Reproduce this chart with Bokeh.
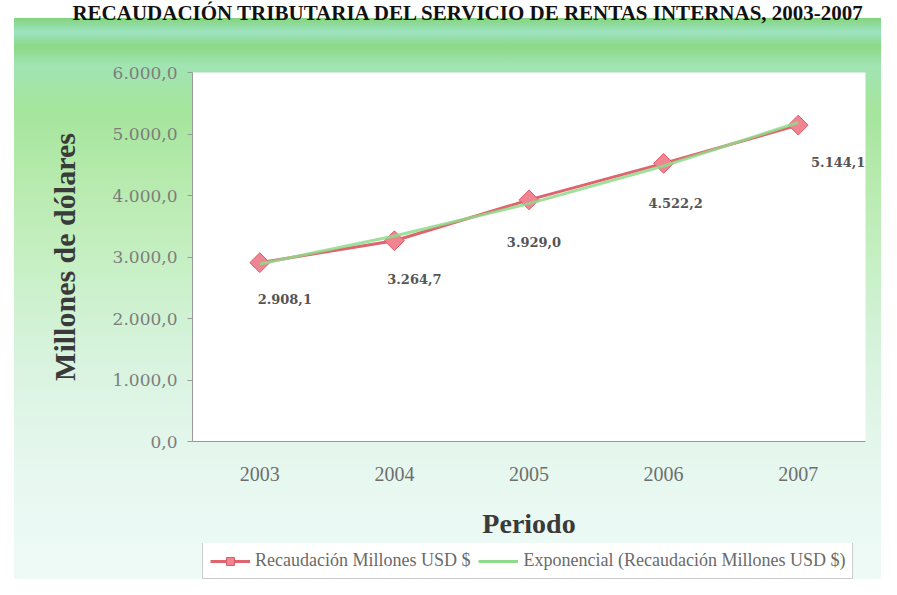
from bokeh.plotting import figure
from bokeh.layouts import column
from bokeh.models import (ColumnDataSource, Range1d, FactorRange, FixedTicker,
                          Legend, LegendItem)
from bokeh.core.properties import value
from bokeh.embed import file_html
from bokeh.resources import INLINE

# ---------------- data ----------------
years = ["2003", "2004", "2005", "2006", "2007"]
recaudacion = [2908.1, 3264.7, 3929.0, 4522.2, 5144.1]
exponencial = [2887.0, 3342.0, 3868.0, 4480.0, 5187.0]
value_labels = ["2.908,1", "3.264,7", "3.929,0", "4.522,2", "5.144,1"]
y_ticks = [0, 1000, 2000, 3000, 4000, 5000, 6000]
y_tick_labels = ["0,0", "1.000,0", "2.000,0", "3.000,0", "4.000,0", "5.000,0", "6.000,0"]

title_text = "RECAUDACIÓN TRIBUTARIA DEL SERVICIO DE RENTAS INTERNAS, 2003-2007"
y_title = "Millones de dólares"
x_title = "Periodo"
legend_main = "Recaudación Millones USD $"
legend_trend = "Exponencial (Recaudación Millones USD $)"

# label offsets (pixels, styling only)
label_dx = [25, 20, 5, 12, 40]
label_dy = [36, 38, 42, 40, 37]

src = ColumnDataSource(dict(year=years, val=recaudacion, trend=exponencial,
                            lab=value_labels, dx=label_dx, dy=label_dy))

SERIF = "Liberation Serif"
W = 881
TITLE_H = 24
LEGEND_H = 36

RED = "#e0646e"
MARK_FILL = "#f08592"
MARK_LINE = "#e05a6a"
GREEN = "#8edb8a"


def strip(height):
    f = figure(width=W, height=height, x_range=FactorRange(*years),
               y_range=Range1d(-20, -10), x_axis_type=None, y_axis_type=None,
               min_border=0, output_backend="svg", toolbar_location=None)
    f.border_fill_color = None
    f.background_fill_color = None
    f.outline_line_color = None
    return f


# ---------------- title strip ----------------
tfig = strip(TITLE_H)
tfig.title.text = title_text
tfig.title.align = "right"
tfig.title.standoff = 0
tfig.title.text_font = SERIF
tfig.title.text_font_style = "bold"
tfig.title.text_font_size = "21px"
tfig.title.text_color = "#111111"
tfig.line(x="year", y="val", source=src, line_alpha=0)

# ---------------- main chart ----------------
p = figure(width=W, height=579 - TITLE_H - LEGEND_H,
           x_range=FactorRange(*years), y_range=Range1d(0, 6000),
           min_border_left=192, min_border_right=16,
           min_border_top=72 - TITLE_H, min_border_bottom=102,
           output_backend="svg", toolbar_location=None)
p.border_fill_color = None
p.background_fill_color = "white"
p.outline_line_color = None
p.grid.visible = False

p.line(x="year", y="val", source=src, line_color=RED, line_width=3)
p.scatter(x="year", y="val", source=src, marker="square", angle=0.785398,
          size=14, fill_color=MARK_FILL, line_color=MARK_LINE, line_width=1)
p.line(x="year", y="trend", source=src, line_color=GREEN, line_width=3, line_alpha=0.85)

p.text(x="year", y="val", text="lab", x_offset="dx", y_offset="dy", source=src,
       text_align="center", text_baseline="middle",
       text_font=value("DejaVu Serif"), text_font_style="bold",
       text_font_size="13px", text_color="#555555")

p.yaxis.ticker = FixedTicker(ticks=y_ticks)
p.yaxis.major_label_overrides = {t: s for t, s in zip(y_ticks, y_tick_labels)}
p.yaxis.minor_tick_line_color = None
p.yaxis.major_tick_in = 0
p.yaxis.major_tick_out = 5
p.yaxis.major_tick_line_color = "#9a9a9a"
p.yaxis.axis_line_color = "#9a9a9a"
p.yaxis.major_label_text_font = "DejaVu Serif"
p.yaxis.major_label_text_font_size = "17px"
p.yaxis.major_label_text_color = "#7d7d7d"
p.yaxis.major_label_standoff = 10
p.yaxis.axis_label = y_title
p.yaxis.axis_label_text_font = SERIF
p.yaxis.axis_label_text_font_style = "bold"
p.yaxis.axis_label_text_font_size = "30px"
p.yaxis.axis_label_text_color = "#3a3a3a"
p.yaxis.axis_label_standoff = 29

p.xaxis.major_tick_line_color = None
p.xaxis.major_tick_out = 0
p.xaxis.major_tick_in = 0
p.xaxis.axis_line_color = "#9a9a9a"
p.xaxis.major_label_text_font = SERIF
p.xaxis.major_label_text_font_size = "20px"
p.xaxis.major_label_text_color = "#6e6e6e"
p.xaxis.major_label_standoff = 25
p.xaxis.axis_label = x_title
p.xaxis.axis_label_text_font = SERIF
p.xaxis.axis_label_text_font_style = "bold"
p.xaxis.axis_label_text_font_size = "28px"
p.xaxis.axis_label_text_color = "#3a3a3a"
p.xaxis.axis_label_standoff = 24

# ---------------- legend strip ----------------
lfig = strip(LEGEND_H)
l_line = lfig.line(x="year", y="val", source=src, line_color=RED, line_width=3)
l_mark = lfig.scatter(x="year", y="val", source=src, marker="square", angle=0.785398,
                      size=12, fill_color=MARK_FILL, line_color=MARK_LINE, line_width=1)
l_trend = lfig.line(x="year", y="trend", source=src, line_color=GREEN, line_width=3)

legend = Legend(items=[LegendItem(label=legend_main, renderers=[l_line, l_mark]),
                       LegendItem(label=legend_trend, renderers=[l_trend])],
                orientation="horizontal", location=(10, 0),
                label_text_font=SERIF, label_text_font_size="18px",
                label_text_color="#6a6a6a", glyph_width=40, glyph_height=20,
                label_standoff=5, spacing=8, padding=7, margin=0,
                border_line_color="#9a9a9a", background_fill_color="white",
                background_fill_alpha=1.0)
lfig.add_layout(legend, "center")

layout = column(tfig, p, lfig, spacing=0, styles={
    "background": (
        "linear-gradient(to right, #ffffff 0px, #ffffff 14px, rgba(255,255,255,0) 14px), "
        "linear-gradient(to bottom, #ffffff 0px, #ffffff 18px, #84d47c 18px, #9de3c2 32px, "
        "#8ad986 46px, #a2e4b4 66px, #a5e59c 110px, #b9ebb0 190px, #c8f0c6 270px, "
        "#d6f3dc 350px, #e2f6ea 430px, #eaf9f3 510px, #eefaf6 579px)"
    )
})

open("out.html", "w").write(file_html(layout, INLINE))
